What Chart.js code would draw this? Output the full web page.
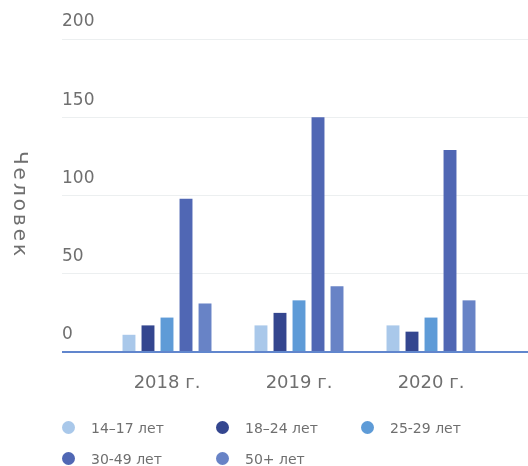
<!DOCTYPE html>
<html lang="ru">
<head>
<meta charset="utf-8">
<title>Человек по возрастным группам</title>
<script src="https://cdn.jsdelivr.net/npm/chart.js@4/dist/chart.umd.min.js"></script>
<style>
  html, body { margin: 0; padding: 0; background: #fff; }
  #wrap { position: relative; width: 528px; height: 466px; }
  #ageChart { position: absolute; left: 0; top: 0; }
  #legend {
    position: absolute; left: 62px; top: 412px;
    display: grid; grid-template-columns: 154px 145px auto; grid-auto-rows: 31px;
    font-family: "DejaVu Sans", sans-serif; font-size: 14px; color: #6f6f6f;
  }
  #legend .item { display: flex; align-items: center; }
  #legend .dot { width: 13px; height: 13px; border-radius: 50%; margin-right: 16px; }
</style>
</head>
<body>
<div id="wrap">
  <canvas id="ageChart" width="528" height="466"></canvas>
  <div id="legend"></div>
</div>
<script>
// data
const years = ["2018 г.", "2019 г.", "2020 г."];
const ageGroups = ["14–17 лет", "18–24 лет", "25-29 лет", "30-49 лет", "50+ лет"];
const age14to17 = [11, 17, 17];
const age18to24 = [17, 25, 13];
const age25to29 = [22, 33, 22];
const age30to49 = [98, 150, 129];
const age50plus = [31, 42, 33];
const yTicks = [0, 50, 100, 150, 200];
const yTitle = "Человек";

const colors = ["#a9c8ea", "#34468f", "#5e9bd7", "#5067b4", "#6883c6"];
const textColor = "#6f6f6f";
const gridColor = "#eceff0";
const baseColor = "#6186cd";
const fontFamily = '"DejaVu Sans", sans-serif';

// html legend built from the datasets
const htmlLegend = {
  id: "htmlLegend",
  afterUpdate(chart) {
    const box = document.getElementById("legend");
    box.innerHTML = "";
    chart.data.datasets.forEach((ds) => {
      const item = document.createElement("div");
      item.className = "item";
      const dot = document.createElement("span");
      dot.className = "dot";
      dot.style.background = ds.backgroundColor;
      const label = document.createElement("span");
      label.textContent = ds.label;
      item.appendChild(dot);
      item.appendChild(label);
      box.appendChild(item);
    });
  },
};

// vertical axis title, reads top to bottom
const sideTitle = {
  id: "sideTitle",
  afterDraw(chart) {
    const ctx = chart.ctx;
    ctx.save();
    ctx.translate(19, 205);
    ctx.rotate(Math.PI / 2);
    ctx.font = "20px " + fontFamily;
    ctx.letterSpacing = "3px";
    ctx.fillStyle = textColor;
    ctx.textAlign = "center";
    ctx.textBaseline = "middle";
    ctx.fillText(yTitle, 0, 0);
    ctx.restore();
  },
};

const series = [age14to17, age18to24, age25to29, age30to49, age50plus];

const gridLine = {
  color: (c) => (c.tick && c.tick.value === 0 ? baseColor : gridColor),
  lineWidth: (c) => (c.tick && c.tick.value === 0 ? 2 : 1),
};

new Chart(document.getElementById("ageChart"), {
  type: "bar",
  data: {
    labels: years,
    datasets: series.map((values, i) => ({
      label: ageGroups[i],
      data: values,
      backgroundColor: colors[i],
      categoryPercentage: 0.72,
      barPercentage: 0.68,
    })),
  },
  options: {
    responsive: false,
    animation: false,
    layout: { padding: { left: 62, right: 0, top: 39, bottom: 74 } },
    plugins: { legend: { display: false }, tooltip: { enabled: false } },
    scales: {
      x: {
        grid: { display: false },
        border: { display: false },
        ticks: { color: textColor, font: { family: fontFamily, size: 18 }, padding: 13 },
        afterFit: (s) => { s.height = 40; },
      },
      y: {
        position: "left",
        min: 0,
        max: 200,
        afterBuildTicks: (s) => { s.ticks = yTicks.map((v) => ({ value: v })); },
        ticks: {
          color: textColor,
          font: { family: fontFamily, size: 17 },
          crossAlign: "far",
          padding: 0,
          labelOffset: -17,
        },
        grid: { ...gridLine, tickLength: 39 },
        border: { display: false },
        afterFit: (s) => { s.width = 39; },
      },
      yRight: {
        position: "right",
        min: 0,
        max: 200,
        afterBuildTicks: (s) => { s.ticks = yTicks.map((v) => ({ value: v })); },
        ticks: { display: false },
        grid: { ...gridLine, tickLength: 31, drawOnChartArea: false },
        border: { display: false },
        afterFit: (s) => { s.width = 31; },
      },
    },
  },
  plugins: [htmlLegend, sideTitle],
});
</script>
</body>
</html>
